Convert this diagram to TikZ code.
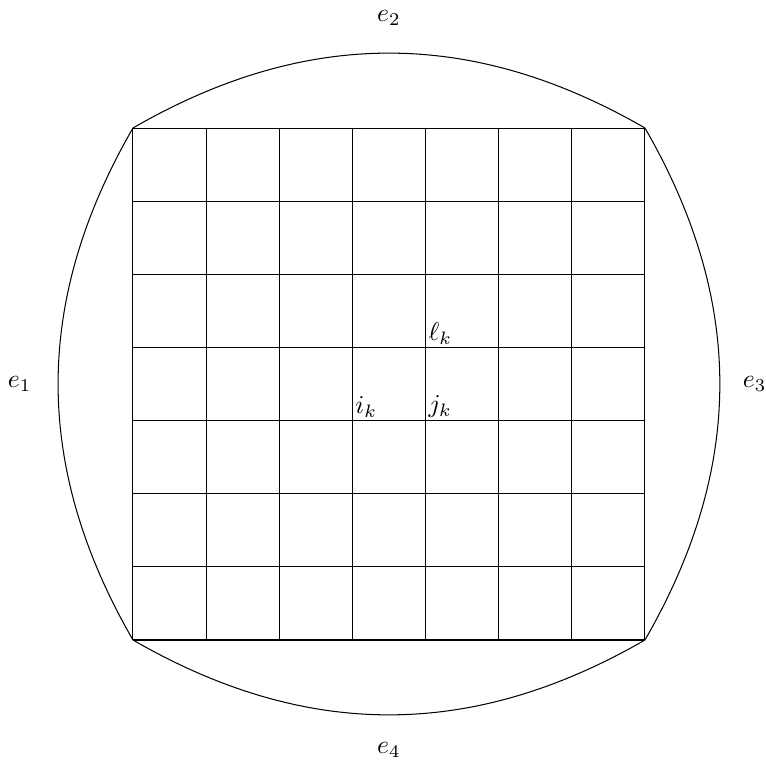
\documentclass[tikz,border=0pt]{standalone}
\begin{document}
\begin{tikzpicture}[
  edge/.style={draw=black, line width=0.4pt},
  vlabel/.style={anchor=south west, inner sep=1pt},
  elabel/.style={inner sep=0pt}
]
\useasboundingbox (-1.818,-1.641) rectangle (8.655,8.750);
\draw[edge] (0,0) grid (7,7);
\coordinate (bl) at (0,0);
\coordinate (br) at (7,0);
\coordinate (tl) at (0,7);
\coordinate (tr) at (7,7);
\draw[edge] (tl) to[bend left=30] (tr);
\draw[edge] (tr) to[bend left=30] (br);
\draw[edge] (br) to[bend left=30] (bl);
\draw[edge] (bl) to[bend left=30] (tl);
\node[elabel] (e1) at (-1.55,3.5) {$e_1$};
\node[elabel] (e2) at (3.5,8.5) {$e_2$};
\node[elabel] (e3) at (8.5,3.5) {$e_3$};
\node[elabel] (e4) at (3.5,-1.5) {$e_4$};
\node[vlabel] (ik) at (3,3) {$i_k$};
\node[vlabel] (jk) at (4,3) {$j_k$};
\node[vlabel] (lk) at (4,4) {$\ell_k$};
\end{tikzpicture}
\end{document}
